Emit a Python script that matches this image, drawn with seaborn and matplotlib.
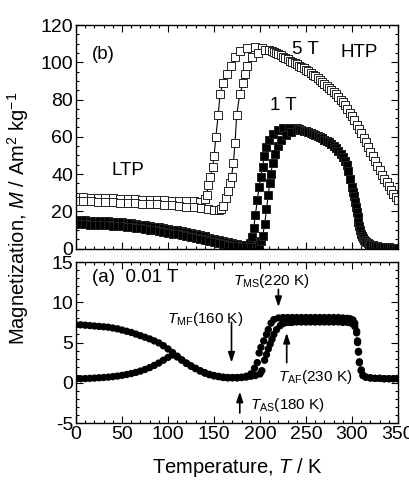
import matplotlib
matplotlib.use('Agg')
import matplotlib.pyplot as plt
import seaborn as sns
from matplotlib.ticker import MultipleLocator

# ---- 5 T (open squares) ----
t5_a = [0, 8, 16, 24, 32, 40, 48, 56, 64, 72, 80, 88, 96, 104, 112, 120, 128, 135,
        140, 142, 144, 146, 148.5, 150, 152, 154.5, 156.5, 160, 164.5, 168, 173, 178,
        185.5, 194.5, 202]
m5_a = [27.6, 27.5, 27.3, 27.2, 27.0, 26.9, 26.7, 26.6, 26.4, 26.3, 26.1, 26.0, 25.9,
        25.7, 25.6, 25.4, 25.3, 25.2, 26.5, 29, 34, 38.6, 44, 49.5, 60, 71.5, 83, 89,
        93.7, 98, 102.6, 105.8, 107.6, 108, 107.5]
t5_b = [0, 8, 16, 24, 32, 40, 48, 56, 64, 72, 80, 88, 96, 104, 112, 120, 128, 136,
        144, 150, 155, 158, 160, 163, 165, 167, 169, 171, 172.8, 174.6, 178, 182,
        183.7, 186, 191, 198, 205]
m5_b = [25.6, 25.5, 25.4, 25.2, 25.0, 24.9, 24.7, 24.5, 24.3, 24.1, 23.9, 23.7, 23.5,
        23.2, 22.9, 22.5, 22.1, 21.7, 21.2, 20.8, 20.6, 21.5, 23, 27, 31, 35, 38.6,
        45.7, 56.4, 71.5, 83, 89, 93.7, 98, 102.6, 105, 106.5]
t5_hi = [210, 212.5, 215, 217.5, 220, 222.5, 225, 227.5, 230, 232.5, 235, 237.5, 240,
         242.5, 245, 247.5, 250, 252.5, 255, 257.5, 260, 262.5, 265, 267.5, 270, 272.5,
         275, 277.5, 280, 282.5, 285, 287.5, 290, 292.5, 295, 297.5, 300, 302.5, 305,
         307.5, 310, 312.5, 315, 317.5, 320, 322.5, 325, 327.5, 330, 332.5, 335, 337.5,
         340, 342.5, 345, 347.5, 350]
m5_hi = [106.5, 106, 105.5, 105, 104.5, 103.8, 103, 102.2, 101.5, 100.9, 100.3, 99.6,
         99, 98.2, 97.5, 96.7, 96, 95.1, 94.3, 93.4, 92.5, 91.5, 90.5, 89.5, 88.5, 87.4,
         86.3, 85.2, 84, 82.7, 81.3, 80, 78.5, 76.8, 75, 73, 71, 68.8, 66.5, 64.3, 62,
         59.5, 57, 54.5, 52, 49.5, 47, 44.5, 42, 39.7, 37.5, 35.5, 33.5, 31.5, 29.5,
         27.7, 26]

# ---- 1 T (filled squares) ----
t1_a = [0, 5, 10, 15, 20, 25, 30, 35, 40, 45, 50, 55, 60, 65, 70, 75, 80, 85, 90, 95,
        100, 105, 110, 115, 120, 125, 130, 135, 140, 145, 150, 155, 160, 165, 170, 175,
        180, 184, 189, 191, 193, 195, 197, 199, 200.7, 203, 204.3, 207, 210, 214, 219,
        225, 232, 240]
m1_a = [15.2, 15.15, 15.1, 15.0, 14.9, 14.8, 14.7, 14.55, 14.4, 14.2, 14.0, 13.75, 13.5,
        13.2, 12.9, 12.55, 12.2, 11.8, 11.4, 11.0, 10.6, 10.2, 9.8, 9.3, 8.8, 8.25, 7.7,
        7.1, 6.5, 5.9, 5.3, 4.65, 4.0, 3.4, 2.8, 2.3, 1.9, 1.7, 3, 6, 11, 18, 26, 33,
        38.6, 43.9, 49.6, 54.6, 58.5, 61.5, 63.5, 64.5, 64.8, 64.5]
t1_b = [0, 5, 10, 15, 20, 25, 30, 35, 40, 45, 50, 55, 60, 65, 70, 75, 80, 85, 90, 95,
        100, 105, 110, 115, 120, 125, 130, 135, 140, 145, 150, 155, 160, 165, 170, 175,
        180, 185, 190, 196, 199, 201, 203, 205, 207, 209, 210.5, 211.6, 213.8, 216, 219,
        223, 228, 234, 240]
m1_b = [13.1, 13.05, 13.0, 12.9, 12.8, 12.7, 12.6, 12.45, 12.3, 12.1, 11.9, 11.65, 11.4,
        11.1, 10.8, 10.45, 10.1, 9.7, 9.3, 8.9, 8.5, 8.05, 7.6, 7.1, 6.6, 6.05, 5.5,
        4.95, 4.4, 3.9, 3.4, 2.9, 2.4, 2.0, 1.6, 1.3, 1.0, 0.9, 0.8, 1.0, 2, 4, 7, 13,
        21, 29, 35, 40, 45.7, 51, 55, 58.5, 61, 62.5, 63.5]
t1_hi = [242.5, 245, 247.5, 250, 252.5, 255, 257.5, 260, 262.5, 265, 267.5, 270, 272.5,
         275, 277.5, 280, 282.5, 285, 287.5, 290, 292, 294, 296, 298, 300, 301, 302,
         303, 304, 305, 306, 307, 308, 309, 310, 311, 312, 313, 314, 315.5, 317, 318.5,
         320, 322.5, 325, 327.5, 330, 332.5, 335, 337.5, 340, 342.5, 345, 347.5, 350]
m1_hi = [64, 63.5, 63.3, 63, 62.5, 62, 61.5, 61, 60.4, 59.8, 59.2, 58.5, 57.8, 57, 56,
         55, 53.8, 52.5, 51, 49, 47, 45, 41.5, 37.5, 33, 30.5, 28, 25, 22.5, 19.7, 17,
         14.5, 12, 10, 8, 6.7, 5.5, 4.7, 4, 3.3, 2.8, 2.4, 2, 1.7, 1.4, 1.2, 1.0, 0.9,
         0.8, 0.7, 0.6, 0.55, 0.5, 0.45, 0.4]

# ---- 0.01 T (filled circles) ----
t01_a = [0, 5, 10, 15, 20, 25, 30, 35, 40, 45, 50, 55, 60, 65, 70, 75, 80, 85, 90, 95,
         100, 105, 110, 115, 120, 125, 130, 135, 140, 145, 150, 155, 160, 165, 170,
         175, 180, 185, 190, 194, 197, 199, 201, 204, 207, 209, 212, 215, 220]
m01_a = [7.2, 7.2, 7.15, 7.1, 7.05, 7.0, 6.95, 6.9, 6.8, 6.7, 6.55, 6.4, 6.25, 6.05,
         5.85, 5.65, 5.45, 5.2, 4.95, 4.6, 4.2, 3.75, 3.3, 2.85, 2.45, 2.1, 1.8, 1.5,
         1.25, 1.05, 0.9, 0.8, 0.7, 0.65, 0.65, 0.65, 0.7, 0.8, 1.1, 1.8, 2.5, 3.7, 4.4,
         5.2, 6.0, 6.6, 7.4, 7.85, 8.05]
t01_b = [0, 5, 10, 15, 20, 25, 30, 35, 40, 45, 50, 55, 60, 65, 70, 75, 80, 85, 90, 95,
         100, 105, 110, 115, 120, 125, 130, 135, 140, 145, 150, 155, 160, 165, 170,
         175, 180, 185, 190, 195, 200, 202, 205, 207, 209, 211, 213, 215, 218, 222, 226,
         232]
m01_b = [0.5, 0.5, 0.52, 0.55, 0.58, 0.62, 0.66, 0.7, 0.76, 0.83, 0.92, 1.02, 1.14,
         1.28, 1.45, 1.65, 1.88, 2.15, 2.45, 2.8, 3.15, 3.45, 3.2, 2.8, 2.4, 2.05, 1.75,
         1.45, 1.2, 1.0, 0.85, 0.75, 0.65, 0.6, 0.6, 0.6, 0.65, 0.7, 0.8, 0.9, 1.1, 1.5,
         2.8, 3.5, 4.2, 4.8, 5.4, 6.0, 6.6, 7.1, 7.4, 7.5]
t01_hi = [225, 230, 235, 240, 245, 250, 255, 260, 265, 270, 275, 280, 285, 290, 295,
          298, 301, 303, 305, 306, 307, 308, 310, 312, 315, 320, 325, 330, 335, 340,
          345, 350]
m01_hi_a = [8.1, 8.1, 8.1, 8.1, 8.1, 8.1, 8.1, 8.1, 8.1, 8.1, 8.1, 8.1, 8.1, 8.05, 8.0,
            7.95, 7.8, 7.4, 6.4, 5.2, 3.9, 2.6, 1.6, 0.9, 0.7, 0.6, 0.55, 0.55, 0.5, 0.5,
            0.5, 0.5]
m01_hi_b = [7.45, 7.5, 7.5, 7.55, 7.55, 7.55, 7.55, 7.55, 7.55, 7.55, 7.55, 7.55, 7.55,
            7.5, 7.5, 7.45, 7.3, 7.0, 6.2, 5.0, 3.8, 2.5, 1.5, 0.9, 0.7, 0.6, 0.55, 0.55,
            0.5, 0.5, 0.5, 0.5]

sns.set_style('ticks')
plt.rcParams['font.family'] = ['Liberation Sans', 'DejaVu Sans']
plt.rcParams['mathtext.fontset'] = 'custom'
plt.rcParams['mathtext.rm'] = 'Liberation Sans'
plt.rcParams['mathtext.it'] = 'Liberation Sans:italic'
plt.rcParams['axes.unicode_minus'] = False
for key in ['text.color', 'axes.edgecolor', 'axes.labelcolor', 'xtick.color',
            'ytick.color']:
    plt.rcParams[key] = 'black'

fig = plt.figure(figsize=(4.1, 4.82), dpi=100)
ax_top = fig.add_axes([0.1854, 0.4824, 0.7854, 0.4657])
ax_bot = fig.add_axes([0.1854, 0.1224, 0.7854, 0.334])


def squares(ax, t, m, face):
    sns.lineplot(x=t, y=m, ax=ax, sort=False, estimator=None, color='black', lw=0.8,
                 marker='s', markersize=5.4, markerfacecolor=face,
                 markeredgecolor='#222222', markeredgewidth=0.7)


squares(ax_top, t5_a + t5_hi, m5_a + m5_hi, 'white')
squares(ax_top, t5_b + t5_hi, m5_b + m5_hi, 'white')
squares(ax_top, t1_a + t1_hi, m1_a + m1_hi, 'black')
squares(ax_top, t1_b + t1_hi, m1_b + m1_hi, 'black')

sns.scatterplot(x=t01_a + t01_hi, y=m01_a + m01_hi_a, ax=ax_bot, s=28, color='black',
                edgecolor='none')
sns.scatterplot(x=t01_b + t01_hi, y=m01_b + m01_hi_b, ax=ax_bot, s=28, color='black',
                edgecolor='none')

for ax in (ax_top, ax_bot):
    ax.set_xlim(0, 350)
    ax.xaxis.set_major_locator(MultipleLocator(50))
    ax.xaxis.set_minor_locator(MultipleLocator(10))
    ax.tick_params(which='both', direction='in', top=True, right=True, labelsize=14,
                   width=0.8, pad=2)
    ax.tick_params(which='major', length=5)
    ax.tick_params(which='minor', length=2.5)
    for s in ax.spines.values():
        s.set_linewidth(1)
    ax.set_xlabel('')
    ax.set_ylabel('')

ax_top.set_ylim(-0.5, 120)
ax_top.yaxis.set_major_locator(MultipleLocator(20))
ax_top.yaxis.set_minor_locator(MultipleLocator(5))
ax_top.tick_params(labelbottom=False)

ax_bot.set_ylim(-5, 15)
ax_bot.yaxis.set_major_locator(MultipleLocator(5))
ax_bot.yaxis.set_minor_locator(MultipleLocator(1))

# labels in the top panel
ax_top.text(17, 104, '(b)', fontsize=13.5, va='center')
ax_top.text(235, 107, '5 T', fontsize=13.5, va='center')
ax_top.text(287, 105, 'HTP', fontsize=13.5, va='center')
ax_top.text(211, 77, '1 T', fontsize=13.5, va='center')
ax_top.text(39, 42, 'LTP', fontsize=13.5, va='center')

# labels and arrows in the bottom panel
ax_bot.text(17, 13.1, '(a)  0.01 T', fontsize=13.5, va='center')
ax_bot.text(171, 12.6, r'$T_{\rm MS}$(220 K)', fontsize=11, va='center')
ax_bot.text(99, 7.9, r'$T_{\rm MF}$(160 K)', fontsize=11, va='center')
ax_bot.text(220, 0.75, r'$T_{\rm AF}$(230 K)', fontsize=11, va='center')
ax_bot.text(189, -2.75, r'$T_{\rm AS}$(180 K)', fontsize=11, va='center')

arrow = dict(arrowstyle='-|>,head_length=0.6,head_width=0.2', color='black', lw=1.2,
             shrinkA=0, shrinkB=0)
ax_bot.annotate('', xy=(220, 9.4), xytext=(220, 11.6), arrowprops=arrow)
ax_bot.annotate('', xy=(169, 2.5), xytext=(169, 7.5), arrowprops=arrow)
ax_bot.annotate('', xy=(229, 6.2), xytext=(229, 2.5), arrowprops=arrow)
ax_bot.annotate('', xy=(178, -1.1), xytext=(178, -3.75), arrowprops=arrow)

fig.text(0.044, 0.546, r'Magnetization, $M$ / Am$^2$ kg$^{-1}$', rotation=90,
         fontsize=14.5, ha='center', va='center')
fig.text(0.578, 0.031, r'Temperature, $T$ / K', fontsize=14.5, ha='center',
         va='center')

fig.savefig('out.png', dpi=100)
